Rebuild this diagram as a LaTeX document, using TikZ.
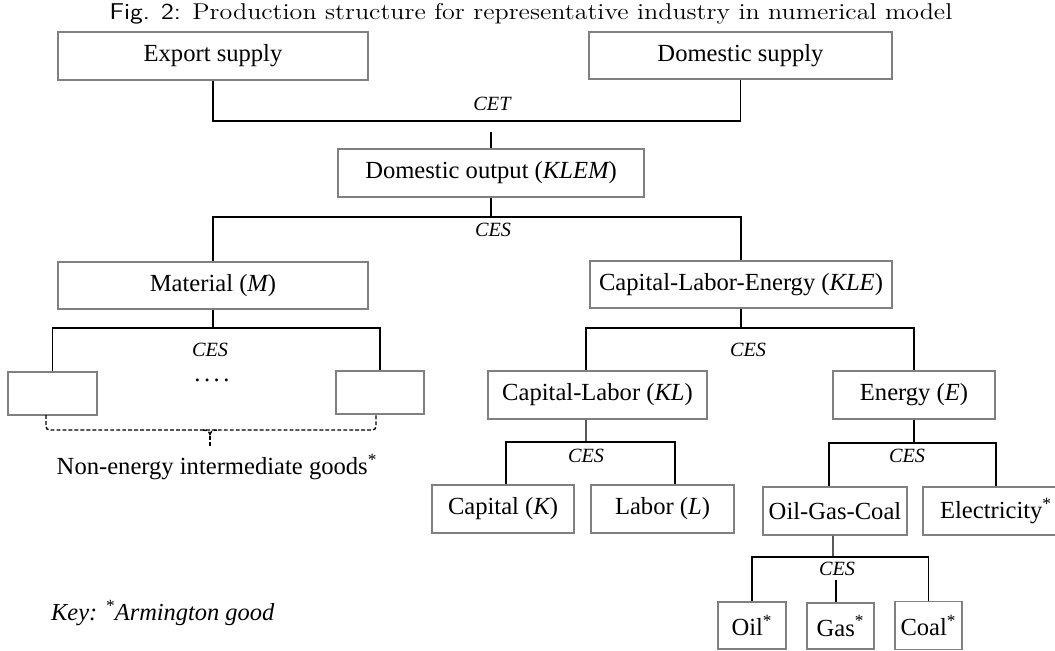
\documentclass[tikz,border=0pt]{standalone}
\usepackage{fontspec}
\usepackage{graphicx}
\usepackage{tikz}
\usetikzlibrary{calc}
\newfontfamily\timesfont{Liberation Serif}

\tikzset{
	box/.style={draw=black!50, line width=1pt, fill=white, inner sep=0pt, font=\timesfont\fontsize{14}{16}\selectfont},
	link/.style={black, line width=0.8pt},
	rule/.style={inner sep=0pt, font=\timesfont\itshape\fontsize{11.5}{13}\selectfont},
	brace/.style={black, line width=0.8pt, dash pattern=on 2.2pt off 1.2pt}
}

\begin{document}
\begin{tikzpicture}[x=0.02cm, y=-0.02cm]
	\useasboundingbox (0,0) rectangle (1055,650);
	\node (title) at (531,14) {\scalebox{1.14}[1]{\fontsize{13}{15}\selectfont\textsf{Fig. 2:} Production structure for representative industry in numerical model}};
	
	\node[box, minimum width=6.2cm, minimum height=0.96cm] (exp) at (213,56) {Export supply};
	\node[box, minimum width=6.06cm, minimum height=0.94cm] (dom) at (740.5,55.5) {Domestic supply};
	\node[box, minimum width=6.12cm, minimum height=0.96cm] (out) at (491,173) {Domestic output ({\itshape KLEM})};
	\node[box, minimum width=6.2cm, minimum height=0.94cm] (mat) at (213,285.5) {Material ({\itshape M})};
	\node[box, minimum width=6.04cm, minimum height=0.94cm] (kle) at (741,284.5) {Capital-Labor-Energy ({\itshape KLE})};
	\node[box, minimum width=1.78cm, minimum height=0.86cm] (m1) at (52.5,393.5) {};
	\node[box, minimum width=1.76cm, minimum height=0.86cm] (m2) at (380,392.5) {};
	\node[box, minimum width=4.38cm, minimum height=0.96cm] (kl) at (597.5,395) {Capital-Labor ({\itshape KL})};
	\node[box, minimum width=3.24cm, minimum height=0.96cm] (en) at (914,395) {Energy ({\itshape E})};
	\node[box, minimum width=2.84cm, minimum height=0.96cm] (cap) at (503,509) {Capital ({\itshape K})};
	\node[box, minimum width=2.86cm, minimum height=0.96cm] (lab) at (662.5,509) {Labor ({\itshape L})};
	\node[box, minimum width=2.88cm, minimum height=0.96cm] (ogc) at (835,511) {Oil-Gas-Coal};
	\node[box, minimum width=2.92cm, minimum height=0.96cm] (ele) at (996,511) {Electricity\textsuperscript{*}};
	\node[box, minimum width=1.36cm, minimum height=0.94cm] (oil) at (752,625.5) {Oil\textsuperscript{*}};
	\node[box, minimum width=1.34cm, minimum height=0.92cm] (gas) at (840.5,626) {Gas\textsuperscript{*}};
	\node[box, minimum width=1.34cm, minimum height=0.96cm] (coal) at (928.5,625.5) {Coal\textsuperscript{*}};
	
	\coordinate (cet) at (493,121);
	\coordinate (ces1) at (491,217);
	\coordinate (ces2) at (213,328);
	\coordinate (ces3) at (741,328);
	\coordinate (ces4) at (586,442);
	\coordinate (ces5) at (914,443);
	\coordinate (ces6) at (833,557);
	
	\draw[link] (exp.south) |- (cet) -| (dom.south);
	\draw[link] (out.north) -- ++(0,-16);
	\draw[link] (out.south) -- (ces1);
	\draw[link] (mat.north) |- (ces1) -| (kle.north);
	\draw[link] (mat.south) -- (ces2);
	\draw[link] (m1.north) |- (ces2) -| (m2.north);
	\draw[link] (kle.south) -- (ces3);
	\draw[link] ([xshift=-0.23cm]kl.north) |- (ces3) -| (en.north);
	\draw[link] ([xshift=-0.23cm]kl.south) -- (ces4);
	\draw[link] ([xshift=0.06cm]cap.north) |- (ces4) -| ([xshift=0.25cm]lab.north);
	\draw[link] (en.south) -- (ces5);
	\draw[link] ([xshift=-0.12cm]ogc.north) |- (ces5) -| (ele.north);
	\draw[link] ([xshift=-0.04cm]ogc.south) -- (ces6);
	\draw[link] (oil.north) |- (ces6) -| (coal.north);
	\draw[link] ([xshift=-0.09cm]gas.north) -- ++(0,-22);
	
	\draw[brace, rounded corners=2pt] (46,415) -- (46,430) -- (376,430) -- (376,415);
	\draw[brace] (203,430) .. controls (208,430) and (210,432) .. (210,436) .. controls (210,432) and (212,430) .. (217,430);
	\draw[brace] (210,436) -- (210,447);
	
	\node[rule] (lcet) at (492,104) {CET};
	\node[rule] (lces1) at (493,230) {CES};
	\node[rule] (lces2) at (210,350) {CES};
	\node[rule] (lces3) at (748,350) {CES};
	\node[rule] (lces4) at (586,456) {CES};
	\node[rule] (lces5) at (907,456) {CES};
	\node[rule] (lces6) at (837,569) {CES};
	\node[anchor=base, inner sep=0pt, font=\timesfont\fontsize{14}{16}\selectfont] (dots) at (212,381) {.\kern2pt.\kern2pt.\kern2pt.};
	\node[font=\timesfont\fontsize{14}{16}\selectfont] (nonen) at (217,467) {Non-energy intermediate goods\textsuperscript{*}};
	\node[anchor=west, font=\timesfont\itshape\fontsize{13.9}{16}\selectfont] (key) at (45,613) {Key: \textsuperscript{*}Armington good};
\end{tikzpicture}
\end{document}
